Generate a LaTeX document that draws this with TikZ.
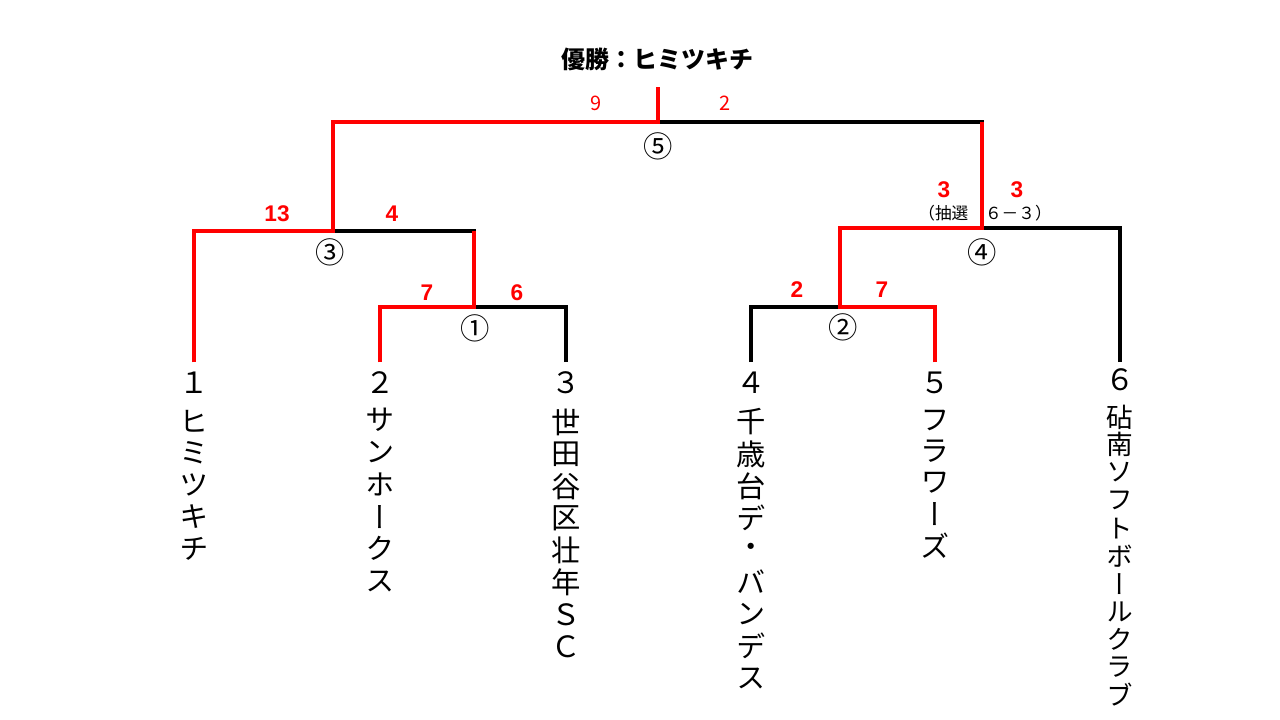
\documentclass[tikz,border=0pt]{standalone}
\usepackage{fontspec}
\newfontfamily\jp{Noto Sans CJK JP}
\newfontfamily\jpv[RawFeature=+vert]{Noto Sans CJK JP}
\newfontfamily\arl{Liberation Sans}
\begin{document}
\begin{tikzpicture}[x=0.75pt,y=-0.75pt,
  wire/.style={line width=3pt,black},
  win/.style={line width=3pt,red},
  score/.style={text=red,font=\arl\bfseries\fontsize{17}{18}\selectfont,inner sep=0pt},
  fscore/.style={text=red,font=\jp\fontsize{15}{16}\selectfont,inner sep=0pt},
  mno/.style={font=\jp\fontsize{22}{24}\selectfont,inner sep=0pt},
  tno/.style={font=\jp\fontsize{22}{24}\selectfont,inner sep=0pt},
  tch/.style={font=\jpv\fontsize{22}{24}\selectfont,inner sep=0pt},
  tchs/.style={font=\jpv\fontsize{20}{22}\selectfont,inner sep=0pt}]
\useasboundingbox (0,0) rectangle (1280,720);
% coordinates
\coordinate (t1) at (194,362);
\coordinate (t2) at (380,362);
\coordinate (t3) at (566,362);
\coordinate (t4) at (751,362);
\coordinate (t5) at (935,362);
\coordinate (t6) at (1120,362);
\coordinate (m1) at (474,307);
\coordinate (m2) at (840,307);
\coordinate (m3) at (333,231);
\coordinate (m4) at (982,228);
\coordinate (m5) at (658,122);
\coordinate (top) at (658,87);
% black tree
\draw[wire] (t1) |- (m3);
\draw[wire] (t2) |- (m1);
\draw[wire] (t3) |- (m1);
\draw[wire] (m1) |- (m3);
\draw[wire] (m3) |- (m5);
\draw[wire] (t4) |- (m2);
\draw[wire] (t5) |- (m2);
\draw[wire] (m2) |- (m4);
\draw[wire] (t6) |- (m4);
\draw[wire] (m4) |- (m5);
\draw[wire] (m5) -- (top);
% winners
\draw[win] (t1) |- (m3) |- (m5) -- (top);
\draw[win] (t2) |- (m1) -- (m1 |- m3);
\draw[win] (t5) |- (m2) |- (m4) -- (m4 |- m5);
% title
\node[font=\jp\bfseries\fontsize{18}{20}\selectfont,inner sep=0pt] (title) at (657,59) {優勝：ヒミツキチ};
% match numbers
\node[mno] (c1) at (475,328) {①};
\node[mno] (c2) at (843,327) {②};
\node[mno] (c3) at (330,252) {③};
\node[mno] (c4) at (982,252) {④};
\node[mno] (c5) at (658,146) {⑤};
% scores
\node[fscore] (s5a) at (596,103) {9};
\node[fscore] (s5b) at (725,103) {2};
\node[score] (s3a) at (277,214) {13};
\node[score] (s3b) at (392,214) {4};
\node[score] (s1a) at (427,293) {7};
\node[score] (s1b) at (517,293) {6};
\node[score] (s2a) at (797,290) {2};
\node[score] (s2b) at (882,290) {7};
\node[score] (s4a) at (944,190) {3};
\node[score] (s4b) at (1017,190) {3};
\node[font=\jp\fontsize{12.5}{14}\selectfont,inner sep=0pt] (lot) at (985,213) {（抽選　６－３）};
% team numbers
\node[tno] (n1) at (194,383) {１};
\node[tno] (n2) at (380,383) {２};
\node[tno] (n3) at (566,383) {３};
\node[tno] (n4) at (751,383) {４};
\node[tno] (n5) at (935,383) {５};
\node[tno] (n6) at (1120,380) {６};
% team names (vertical)
\foreach \c [count=\i] in {ヒ,ミ,ツ,キ,チ}
  \node[tch] (a\i) at (194,{421+32*(\i-1)}) {\c};
\foreach \c [count=\i] in {サ,ン,ホ,ー,ク,ス}
  \node[tch] (b\i) at (380,{420+32.2*(\i-1)}) {\c};
\foreach \c [count=\i] in {世,田,谷,区,壮,年,Ｓ,Ｃ}
  \node[tch] (d\i) at (566,{422+32.1*(\i-1)}) {\c};
\foreach \c [count=\i] in {千,歳,台,デ,・,バ,ン,デ,ス}
  \node[tch] (e\i) at (751,{422+32*(\i-1)}) {\c};
\foreach \c [count=\i] in {フ,ラ,ワ,ー,ズ}
  \node[tch] (f\i) at (935,{420+31.3*(\i-1)}) {\c};
\foreach \c [count=\i] in {砧,南,ソ,フ,ト,ボ,ー,ル,ク,ラ,ブ}
  \node[tchs] (g\i) at (1120,{417+27.8*(\i-1)}) {\c};
\end{tikzpicture}
\end{document}
